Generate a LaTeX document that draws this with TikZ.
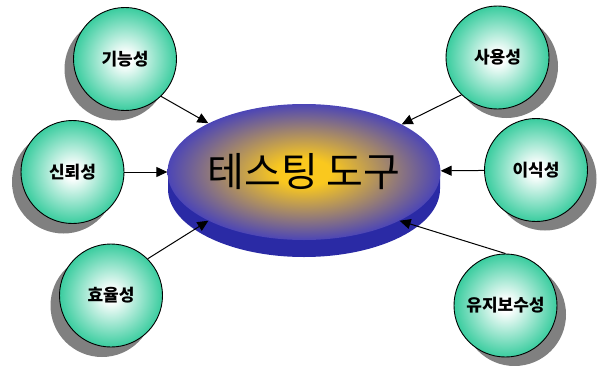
\documentclass[tikz,border=0pt]{standalone}
\usepackage{fontspec}
\newfontfamily\kr{Noto Sans CJK KR}
\usetikzlibrary{shapes.geometric,shadows,arrows.meta}

\definecolor{ballgreen}{RGB}{40,200,150}
\definecolor{toolblue}{RGB}{50,50,205}
\definecolor{toolgold}{RGB}{250,200,30}
\definecolor{rimblue}{RGB}{42,42,165}

% white core fading to green for the quality circles
% (the shading square is stretched so that 35bp lands on the shape's rim)
\pgfdeclareradialshading{ballshade}{\pgfpoint{0bp}{0bp}}{color(0bp)=(white); color(3bp)=(white); color(27bp)=(ballgreen); color(50bp)=(ballgreen)}
% golden core fading to blue for the central disc
\pgfdeclareradialshading{toolshade}{\pgfpoint{0bp}{0bp}}{color(0bp)=(toolgold); color(5bp)=(toolgold); color(28bp)=(toolblue); color(50bp)=(toolblue)}

\begin{document}
\begin{tikzpicture}[x=1pt,y=1pt,
  ball/.style={circle, draw=black, line width=0.9pt, shading=ballshade,
    minimum size=103pt, inner sep=0pt, font=\kr\bfseries\fontsize{17}{19}\selectfont},
  lshadow/.style={general shadow={fill=black!50, shadow xshift=-9pt, shadow yshift=-10pt}},
  rshadow/.style={general shadow={fill=black!50, shadow xshift=9pt, shadow yshift=-9pt}},
  link/.style={line width=1pt, -{Triangle[length=11pt,width=10pt]}},
]
\useasboundingbox (0,0) rectangle (601,365);

% central disc: rim first, then the shaded top face
\coordinate (toolc) at (304,193);
\fill[rimblue] ([xshift=-136pt]toolc) -- ++(0,-17)
  arc[start angle=180, end angle=360, x radius=136, y radius=68] -- ++(0,17) -- cycle;
\node[ellipse, minimum width=272pt, minimum height=136pt, inner sep=0pt,
  shading=toolshade, font=\kr\fontsize{40}{44}\selectfont] (tool) at (toolc) {테스팅 도구};

% quality characteristics
\node[ball, lshadow] (c1) at (125,306)   {기능성};
\node[ball, lshadow] (c2) at (72.5,193)  {신뢰성};
\node[ball, lshadow] (c3) at (111,69.5)  {효율성};
\node[ball, rshadow] (c4) at (497.5,307.5) {사용성};
\node[ball, rshadow] (c5) at (536,195)   {이식성};
\node[ball, rshadow] (c6) at (505.5,59.5) {유지보수성};

% connectors
\draw[link] (c1.-46) -- (tool.153);
\draw[link] (c2) -- (tool);
\draw[link] (c3.45) -- (tool.207);
\draw[link] (c4.226) -- (tool.26);
\draw[link] (c5) -- (tool);
\draw[link] (c6.north) -- (tool.-27);
\end{tikzpicture}
\end{document}
